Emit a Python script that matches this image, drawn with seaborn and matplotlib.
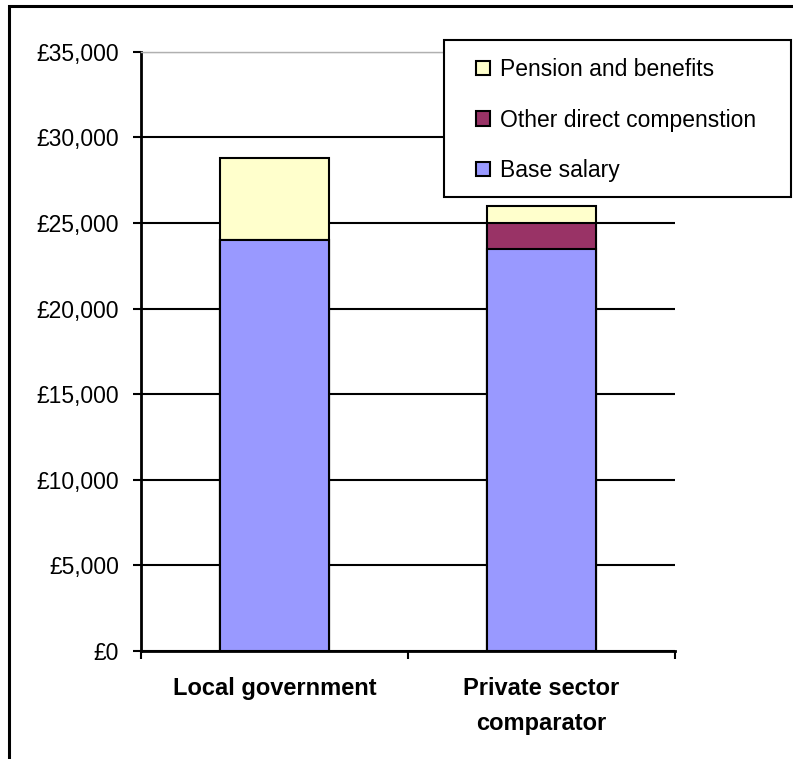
import matplotlib
matplotlib.use("Agg")
import matplotlib.pyplot as plt
from matplotlib.patches import Rectangle
from matplotlib.ticker import FuncFormatter, FixedLocator
import seaborn as sns
import pandas as pd

# Annual pay package per employee, split by component
categories = ["Local government", "Private sector\ncomparator"]
base_salary = [24000, 23500]
other_direct = [0, 1500]
pension_benefits = [4800, 1000]

series_names = ["Pension and benefits", "Other direct compenstion", "Base salary"]
series_colors = ["#FFFFCC", "#993366", "#9999FF"]

y_ticks = [0, 5000, 10000, 15000, 20000, 25000, 30000, 35000]

sns.set_theme(style="white")
plt.rcParams["font.family"] = ["Liberation Sans", "DejaVu Sans"]
plt.rcParams["text.color"] = "black"

# cumulative tops for stacking: drawn from the tallest layer down
base_top = base_salary
other_top = [b + o for b, o in zip(base_salary, other_direct)]
total_top = [t + p for t, p in zip(other_top, pension_benefits)]
layers = [total_top, other_top, base_top]

fig = plt.figure(figsize=(7.93, 7.59), dpi=100)
ax = fig.add_axes([141 / 793, 1 - 651 / 759, (675 - 141) / 793, (651 - 51.7) / 759])

handles = []
for name, color, tops in zip(series_names, series_colors, layers):
    df = pd.DataFrame({"category": categories, "value": tops})
    sns.barplot(data=df, x="category", y="value", ax=ax, color=color,
                width=0.41, edgecolor="black", linewidth=1.5, saturation=1)
    handles.append(Rectangle((0, 0), 1, 1, facecolor=color, edgecolor="black", linewidth=1.5))

ax.set_xlim(-0.5, 1.5)
ax.set_ylim(0, 35000)
ax.set_xlabel("")
ax.set_ylabel("")

ax.yaxis.set_major_locator(FixedLocator(y_ticks))
ax.yaxis.set_major_formatter(FuncFormatter(lambda v, _: f"£{int(v):,}"))
ax.grid(axis="y", color="black", linewidth=1.5)
ax.set_axisbelow(True)

ax.spines["right"].set_visible(False)
ax.spines["top"].set_color("#b0b0b0")
ax.spines["top"].set_linewidth(1.0)
for side in ["left", "bottom"]:
    ax.spines[side].set_color("black")
    ax.spines[side].set_linewidth(2)

ax.tick_params(axis="y", which="major", direction="out", length=6, width=1.5,
               color="black", left=True, pad=10, labelsize=16.5, labelcolor="black")
ax.set_xticks([0, 1])
ax.set_xticklabels(categories, fontweight="bold", fontsize=17, linespacing=1.65)
ax.set_xticks([-0.5, 0.5, 1.5], minor=True)
ax.tick_params(axis="x", which="major", length=0, pad=19, labelcolor="black")
ax.tick_params(axis="x", which="minor", direction="out", length=6, width=1.5,
               color="black", bottom=True)

# legend box drawn as its own frame, entries placed inside it
fig.patches.append(Rectangle((444 / 793, 1 - 197 / 759), (791 - 444) / 793, (197 - 40) / 759,
                             transform=fig.transFigure, facecolor="white",
                             edgecolor="black", linewidth=1.5, zorder=5))
leg = fig.legend(handles, series_names, loc="upper left",
                 bbox_to_anchor=(476 / 793, 1 - 58 / 759),
                 frameon=False, fontsize=16.5, handlelength=0.62, handleheight=0.62,
                 handletextpad=0.42, labelspacing=1.2, borderpad=0, borderaxespad=0,
                 labelcolor="black")
leg.set_zorder(6)

# outer chart frame
fig.patches.append(Rectangle((9 / 793, -0.05), 1.1, 1 - 6 / 759 + 0.05,
                             transform=fig.transFigure, fill=False,
                             edgecolor="black", linewidth=2.2, clip_on=False))

fig.savefig("out.png", dpi=100)
